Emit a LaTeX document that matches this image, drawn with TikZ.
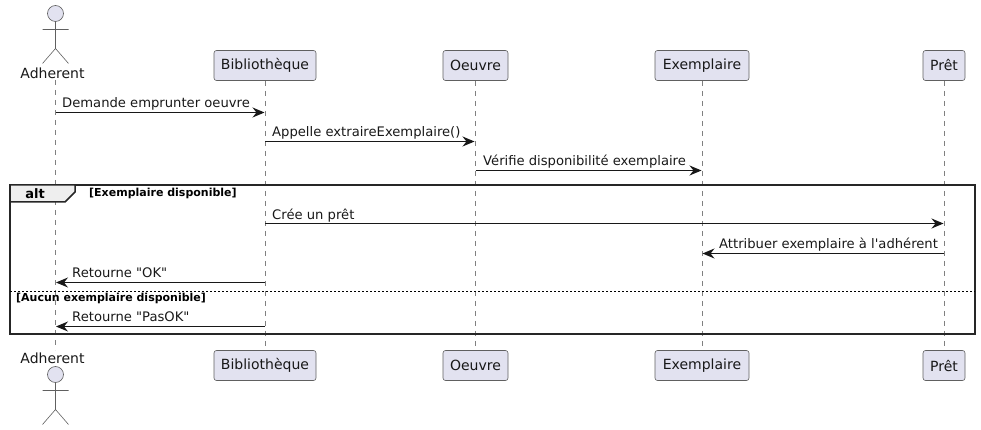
\documentclass[tikz,border=0pt]{standalone}
\usepackage{fontspec}
\newfontfamily\dv{DejaVu Sans}
\usetikzlibrary{arrows.meta}
\definecolor{pbg}{HTML}{E2E2F0}
\definecolor{pline}{HTML}{181818}
\definecolor{thinln}{HTML}{606060}
\definecolor{lifec}{HTML}{808080}
\definecolor{tabbg}{HTML}{EEEEEE}
\newcommand{\fs}[1]{\dv\fontsize{#1}{#1}\selectfont}
\tikzset{
  x=1pt,y=-1pt,
  part/.style={draw=thinln,line width=.6pt,fill=pbg,rounded corners=2.5pt,minimum height=30pt,inner sep=0pt,font=\fs{14},text=pline},
  lifeln/.style={draw=lifec,line width=.6pt,dash pattern=on 5pt off 5pt},
  msg/.style={draw=pline,line width=1pt,-{Stealth[length=12pt,width=10pt,inset=4pt]}},
  msgtext/.style={font=\fs{13.15},text=pline,inner sep=0pt,anchor=base west},
  actorlbl/.style={font=\fs{14},text=pline,inner sep=0pt},
  stick/.style={draw=thinln,line width=.6pt},
  framebox/.style={draw=black!85,line width=1.5pt},
  guardtext/.style={font=\fs{11}\bfseries,text=black,inner sep=0pt,anchor=base west},
}
\newcommand{\stickman}[2]{%
  \draw[stick,fill=pbg] (#1,#2) circle[radius=8pt];
  \draw[stick] (#1,#2+8) -- (#1,#2+35) (#1-13,#2+16) -- (#1+13,#2+16)
    (#1-13,#2+50) -- (#1,#2+35) -- (#1+13,#2+50);
}
\begin{document}
\begin{tikzpicture}
\useasboundingbox (0,0) rectangle (981,430);
\coordinate (at) at (55.5,80); \coordinate (ab) at (55.5,350);
\node[part,minimum width=102pt] (bt) at (265,65.5) {Bibliothèque};
\node[part,minimum width=102pt] (bb) at (265,365.5) {Bibliothèque};
\node[part,minimum width=65pt] (ot) at (475.5,65.5) {Oeuvre};
\node[part,minimum width=65pt] (ob) at (475.5,365.5) {Oeuvre};
\node[part,minimum width=94pt] (et) at (702,65.5) {Exemplaire};
\node[part,minimum width=94pt] (eb) at (702,365.5) {Exemplaire};
\node[part,minimum width=42pt] (pt) at (944,65.5) {Prêt};
\node[part,minimum width=42pt] (pb) at (944,365.5) {Prêt};
\draw[lifeln] (at) -- (ab);
\draw[lifeln] (bt) -- (bb);
\draw[lifeln] (ot) -- (ob);
\draw[lifeln] (et) -- (eb);
\draw[lifeln] (pt) -- (pb);
\stickman{55.5}{13.5}
\stickman{55.5}{374.5}
\node[actorlbl] (al1) at (52.5,73) {Adherent};
\node[actorlbl] (al2) at (52.5,358) {Adherent};
\draw[framebox] (10,185) rectangle (975,334);
\draw[line width=1.5pt,draw=black!85,fill=tabbg] (10,185) -- (75,185) -- (75,192) -- (65,202) -- (10,202) -- cycle;
\node[font=\fs{13}\bfseries,inner sep=0pt] (altl) at (35,194) {alt};
\node[guardtext] (g1) at (89,197) {[Exemplaire disponible]};
\draw[line width=1pt,draw=black,dash pattern=on 2pt off 2pt] (10,291.5) -- (975,291.5);
\node[guardtext] (g2) at (16,301) {[Aucun exemplaire disponible]};
\coordinate (a1) at (55.5,112.5); \coordinate (b1) at (264.5,112.5);
\coordinate (b2) at (265,141.5); \coordinate (o2) at (474.5,141.5);
\coordinate (o3) at (475.5,170.5); \coordinate (e3) at (701.5,170.5);
\coordinate (b4) at (265,223.5); \coordinate (p4) at (943.5,223.5);
\coordinate (p5) at (944,253.5); \coordinate (e5) at (702.5,253.5);
\coordinate (b6) at (265,282.5); \coordinate (a6) at (56,282.5);
\coordinate (b7) at (265,326.5); \coordinate (a7) at (56,326.5);
\draw[msg] (a1) -- (b1);
\draw[msg] (b2) -- (o2);
\draw[msg] (o3) -- (e3);
\draw[msg] (b4) -- (p4);
\draw[msg] (p5) -- (e5);
\draw[msg] (b6) -- (a6);
\draw[msg] (b7) -- (a7);
\node[msgtext] (m1) at (62,107.5) {Demande emprunter oeuvre};
\node[msgtext] (m2) at (272,136.5) {Appelle extraireExemplaire()};
\node[msgtext] (m3) at (483,166) {Vérifie disponibilité exemplaire};
\node[msgtext] (m4) at (272,219) {Crée un prêt};
\node[msgtext] (m5) at (719,248.5) {Attribuer exemplaire à l'adhérent};
\node[msgtext] (m6) at (72,277.5) {Retourne "OK"};
\node[msgtext] (m7) at (72,321.5) {Retourne "PasOK"};
\end{tikzpicture}
\end{document}
